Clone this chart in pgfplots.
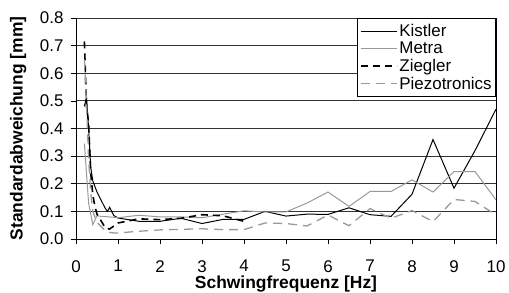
\documentclass[border=0pt]{standalone}
\usepackage{fontspec}
\setmainfont{Liberation Sans}
\usepackage{pgfplots}
\pgfplotsset{compat=1.18}
\begin{document}
\begin{tikzpicture}
\begin{axis}[
  at={(0,0)}, anchor=south west,
  scale only axis, width=420bp, height=221bp,
  xmin=0, xmax=10, ymin=0, ymax=0.8,
  xtick={0,1,...,10}, ytick={0,0.1,...,0.8},
  axis x line*=bottom,
  axis y line*=left,
  tick align=outside,
  major tick length=5bp,
  tick style={black, line width=0.7pt},
  ymajorgrids,
  grid style={black!80, line width=0.8pt},
  axis line style={black, line width=0.8pt},
  /pgf/number format/assume math mode=true,
  /pgf/number format/.cd, fixed, fixed zerofill, precision=1, /pgfplots/.cd,
  xticklabel={\pgfmathprintnumber[fixed, precision=0]{\tick}},
  tick label style={font=\fontsize{17}{19}\selectfont},
  xticklabel style={inner sep=0pt, yshift=-16bp},
  yticklabel style={xshift=-4bp},
  xlabel={\textbf{Schwingfrequenz [Hz]}},
  ylabel={\textbf{Standardabweichung [mm]}},
  label style={font=\fontsize{17.5}{19}\selectfont},
  xlabel style={at={(axis description cs:0.5,0)}, anchor=base, inner sep=0pt, yshift=-49.5bp},
  ylabel style={at={(axis description cs:-0.138,0.5)}, anchor=center},
  legend style={at={(axis cs:10,0.8)}, anchor=north east, draw=black, line width=0.7pt,
    font=\fontsize{17}{19}\selectfont, row sep=0pt, inner xsep=2pt, inner ysep=4pt, cells={anchor=west}},
  legend image code/.code={\draw[#1] (0bp,0bp) -- (36bp,0bp);},
  clip=false,
]
\addplot[black, line width=1pt] coordinates {
(0.2,0.48) (0.25,0.515) (0.3,0.40) (0.35,0.26) (0.4,0.21) (0.5,0.17) (0.6,0.14) (0.7,0.11) (0.75,0.10) (0.8,0.115) (0.9,0.085) (1.0,0.076)
(1.5,0.064) (2,0.064) (2.5,0.075) (3,0.056) (3.5,0.071) (4,0.071) (4.5,0.10) (5,0.083) (5.5,0.09) (6,0.089) (6.5,0.113) (7,0.088) (7.5,0.082) (8,0.162) (8.5,0.36) (9,0.184) (9.5,0.32) (10,0.47)};
\addlegendentry{Kistler}
\addplot[black!40, line width=1pt] coordinates {
(0.2,0.345) (0.3,0.13) (0.4,0.052) (0.5,0.084) (0.6,0.082) (0.8,0.08) (1.0,0.077) (1.5,0.086) (2,0.08) (2.5,0.08) (3,0.077) (3.5,0.09) (4,0.102) (4.5,0.098) (5,0.098) (5.5,0.13) (6,0.17) (6.5,0.118) (7,0.172) (7.5,0.172) (8,0.214) (8.5,0.17) (9,0.244) (9.5,0.244) (10,0.142)};
\addlegendentry{Metra}
\addplot[black, line width=1.6pt, dash pattern=on 7bp off 5bp] coordinates {
(0.2,0.715) (0.25,0.48) (0.3,0.42) (0.35,0.24) (0.4,0.16) (0.45,0.118) (0.5,0.09) (0.6,0.065) (0.7,0.04) (0.8,0.036) (1.0,0.058) (1.5,0.073) (2,0.07) (2.5,0.075) (3,0.088) (3.5,0.084) (4,0.064)};
\addlegendentry{Ziegler}
\addplot[black!40, line width=1.3pt, dash pattern=on 9bp off 6bp] coordinates {
(0.2,0.65) (0.25,0.49) (0.3,0.29) (0.35,0.17) (0.4,0.1) (0.5,0.06) (0.6,0.045) (0.7,0.03) (0.8,0.024) (0.9,0.022) (1.0,0.022) (1.5,0.028) (2,0.033) (2.5,0.035) (3,0.037) (3.5,0.034) (4,0.034) (4.5,0.058) (5,0.056) (5.5,0.047) (6,0.087) (6.5,0.048) (7,0.11) (7.5,0.075) (8,0.103) (8.5,0.063) (9,0.143) (9.5,0.136) (10,0.087)};
\addlegendentry{Piezotronics}
\draw[black, line width=0.8pt] (axis cs:10,0) -- (axis cs:10,0.8);
\end{axis}
\useasboundingbox (-76bp,-54bp) rectangle (433bp,239bp);
\end{tikzpicture}
\end{document}
